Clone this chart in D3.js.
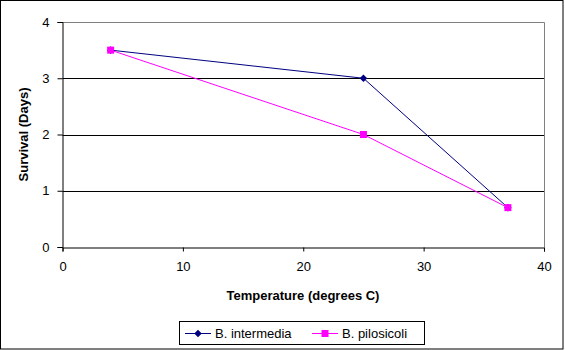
<!DOCTYPE html>
<html>
<head>
<meta charset="utf-8">
<script src="https://cdn.jsdelivr.net/npm/d3@7"></script>
<style>
  body { margin: 0; background: #fff; }
  text { font-family: Arial, "Liberation Sans", sans-serif; }
</style>
</head>
<body>
<svg id="chart" width="565" height="350"></svg>
<script>
// data
var temps = [4, 25, 37];
var intermedia = [3.5, 3.0, 0.7];
var pilosicoli = [3.5, 2.0, 0.7];
var xTicks = [0, 10, 20, 30, 40];
var yTicks = [0, 1, 2, 3, 4];
var seriesNames = ["B. intermedia", "B. pilosicoli"];
var seriesColors = ["#000080", "#FF00FF"];

var svg = d3.select("#chart");

// outer frame
svg.append("rect")
    .attr("x", 0.5).attr("y", 0.5)
    .attr("width", 562.5).attr("height", 348.5)
    .attr("fill", "white").attr("stroke", "black");

// plot area
var plotL = 62.5, plotR = 544, plotT = 22, plotB = 247;

var x = d3.scaleLinear().domain([0, 40]).range([plotL, plotR]);
var y = d3.scaleLinear().domain([0, 4]).range([plotB, plotT]);

// gridlines at 1,2,3
svg.selectAll(".grid")
    .data([1, 2, 3])
    .enter().append("line")
    .attr("class", "grid")
    .attr("x1", plotL).attr("x2", plotR)
    .attr("y1", function(d) { return Math.round(y(d)) + 0.5; })
    .attr("y2", function(d) { return Math.round(y(d)) + 0.5; })
    .attr("stroke", "black");

// gray border top + right
svg.append("path")
    .attr("d", "M" + plotL + "," + (plotT + 0.5) + "H" + (plotR + 0.5) + "V" + plotB)
    .attr("fill", "none").attr("stroke", "#808080");

// axes
var xAxis = d3.axisBottom(x).tickValues(xTicks).tickSize(4).tickPadding(10);
var yAxis = d3.axisLeft(y).tickValues(yTicks).tickSize(5).tickPadding(8)
    .tickFormat(d3.format("d"));

var gx = svg.append("g")
    .attr("transform", "translate(0," + (plotB + 0.5) + ")")
    .call(xAxis);
var gy = svg.append("g")
    .attr("transform", "translate(" + plotL + ",0)")
    .call(yAxis);

[gx, gy].forEach(function(g) {
    g.select(".domain").attr("stroke", "black");
    g.selectAll(".tick line").attr("stroke", "black");
    g.selectAll("text")
        .attr("font-family", "Arial, 'Liberation Sans', sans-serif")
        .attr("font-size", 13).attr("fill", "black");
});

// axis titles
svg.append("text")
    .attr("x", 303).attr("y", 300)
    .attr("text-anchor", "middle")
    .attr("font-size", 13).attr("font-weight", "bold")
    .text("Temperature (degrees C)");

svg.append("text")
    .attr("transform", "translate(28," + ((plotT + plotB) / 2) + ") rotate(-90)")
    .attr("text-anchor", "middle")
    .attr("font-size", 13).attr("font-weight", "bold")
    .text("Survival (Days)");

// series
var line = d3.line()
    .x(function(d, i) { return x(temps[i]); })
    .y(function(d) { return y(d); });

var allSeries = [intermedia, pilosicoli];

allSeries.forEach(function(vals, s) {
    svg.append("path")
        .datum(vals)
        .attr("d", line)
        .attr("fill", "none")
        .attr("stroke", seriesColors[s])
        .attr("stroke-width", 1);
});

var diamond = d3.symbol().type(d3.symbolDiamond2).size(36);

// intermedia markers (diamonds)
svg.selectAll(".m0")
    .data(intermedia)
    .enter().append("path")
    .attr("class", "m0")
    .attr("d", diamond)
    .attr("transform", function(d, i) { return "translate(" + x(temps[i]) + "," + y(d) + ")"; })
    .attr("fill", seriesColors[0]);

// pilosicoli markers (squares)
svg.selectAll(".m1")
    .data(pilosicoli)
    .enter().append("rect")
    .attr("class", "m1")
    .attr("x", function(d, i) { return x(temps[i]) - 3.5; })
    .attr("y", function(d) { return y(d) - 3.5; })
    .attr("width", 7).attr("height", 7)
    .attr("fill", seriesColors[1]);

// legend
svg.append("rect")
    .attr("x", 179.5).attr("y", 321.5)
    .attr("width", 245).attr("height", 23)
    .attr("fill", "white").attr("stroke", "black");

var legendX = [185, 312];
seriesNames.forEach(function(name, s) {
    var lx = legendX[s];
    svg.append("line")
        .attr("x1", lx).attr("x2", lx + 26)
        .attr("y1", 333.5).attr("y2", 333.5)
        .attr("stroke", seriesColors[s]);
    if (s === 0) {
        svg.append("path")
            .attr("d", diamond)
            .attr("transform", "translate(" + (lx + 13) + ",333.5)")
            .attr("fill", seriesColors[s]);
    } else {
        svg.append("rect")
            .attr("x", lx + 9.5).attr("y", 330)
            .attr("width", 7).attr("height", 7)
            .attr("fill", seriesColors[s]);
    }
    svg.append("text")
        .attr("x", lx + 30).attr("y", 338)
        .attr("font-size", 13)
        .text(name);
});
</script>
</body>
</html>
